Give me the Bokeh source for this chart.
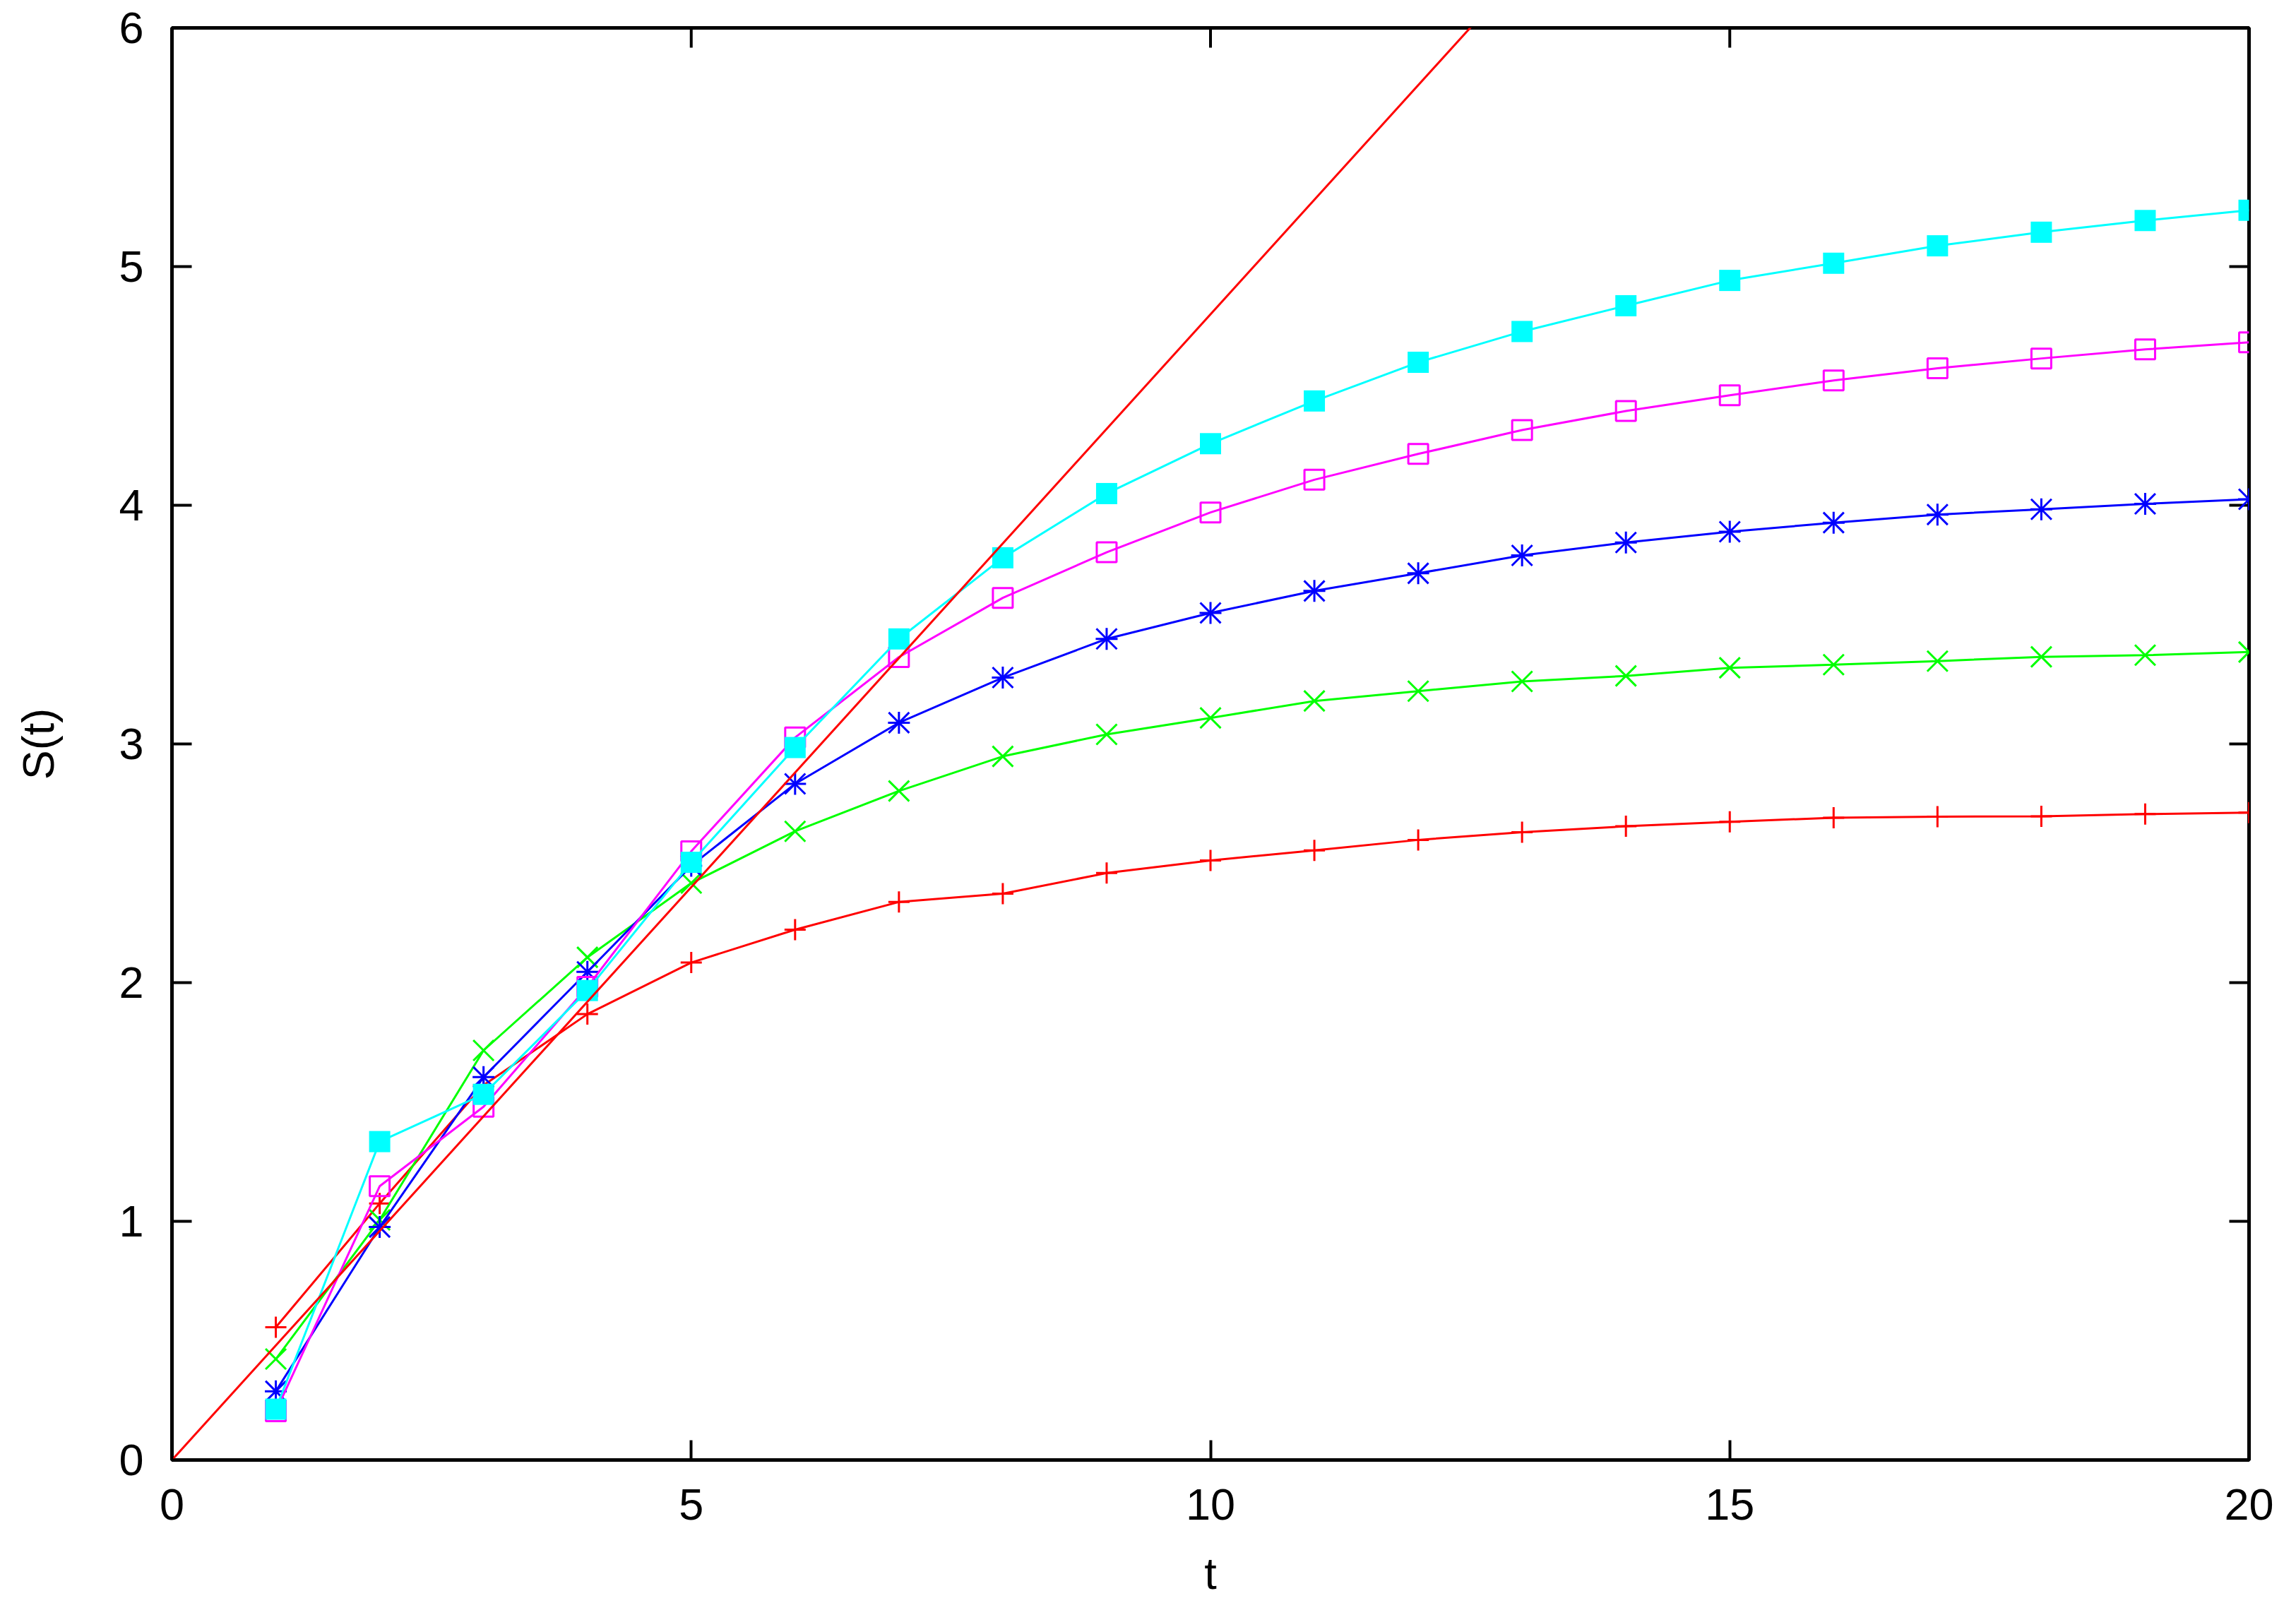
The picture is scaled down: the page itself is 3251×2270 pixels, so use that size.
import math
from bokeh.plotting import figure
from bokeh.models import FixedTicker, Range1d
from bokeh.embed import file_html
from bokeh.resources import INLINE

# ---- data ----
t = list(range(1, 21))
s_red = [0.556, 1.075, 1.57, 1.868, 2.084, 2.222, 2.338, 2.373, 2.459, 2.512,
         2.554, 2.598, 2.630, 2.655, 2.674, 2.691, 2.695, 2.697, 2.706, 2.712]
s_green = [0.423, 1.006, 1.716, 2.106, 2.417, 2.634, 2.803, 2.948, 3.040, 3.109,
           3.180, 3.221, 3.262, 3.285, 3.319, 3.332, 3.347, 3.365, 3.372, 3.385]
s_blue = [0.288, 0.976, 1.604, 2.045, 2.490, 2.833, 3.089, 3.278, 3.440, 3.549,
          3.641, 3.715, 3.790, 3.844, 3.889, 3.927, 3.961, 3.983, 4.006, 4.025]
s_magenta = [0.204, 1.147, 1.480, 1.982, 2.550, 3.027, 3.364, 3.612, 3.803, 3.970,
             4.107, 4.215, 4.315, 4.395, 4.461, 4.523, 4.574, 4.615, 4.653, 4.683]
s_cyan = [0.213, 1.334, 1.532, 1.967, 2.504, 2.985, 3.440, 3.780, 4.049, 4.258,
          4.437, 4.599, 4.728, 4.836, 4.942, 5.014, 5.087, 5.144, 5.193, 5.236]
line_slope = 0.48
line_t = [0, 20]
line_s = [line_slope * v for v in line_t]

x_ticks = [0, 5, 10, 15, 20]
y_ticks = [0, 1, 2, 3, 4, 5, 6]
x_min, x_max = 0, 20
y_min, y_max = 0, 6

FONT = "Liberation Sans"
FS = "63px"

p = figure(frame_width=2941, frame_height=2028,
           x_range=Range1d(x_min, x_max), y_range=Range1d(y_min, y_max),
           output_backend="svg", toolbar_location=None,
           min_border_left=243, min_border_top=39,
           min_border_right=60, min_border_bottom=195,
           x_axis_label="t", y_axis_label="S(t)")
p.xgrid.visible = False
p.ygrid.visible = False
p.outline_line_color = "black"
p.outline_line_width = 5
p.background_fill_color = "white"
p.border_fill_color = "white"

for ax, ticks in ((p.xaxis[0], x_ticks), (p.yaxis[0], y_ticks)):
    ax.ticker = FixedTicker(ticks=ticks)
    ax.axis_line_color = None
    ax.major_tick_in = 28
    ax.major_tick_out = 0
    ax.major_tick_line_width = 4
    ax.major_tick_line_color = "black"
    ax.minor_tick_line_color = None
    ax.major_label_text_font = FONT
    ax.major_label_text_font_size = FS
    ax.major_label_text_color = "black"
    ax.axis_label_text_font = FONT
    ax.axis_label_text_font_size = FS
    ax.axis_label_text_font_style = "normal"
    ax.axis_label_text_color = "black"

p.xaxis[0].major_label_standoff = 41
p.xaxis[0].axis_label_standoff = 38
p.yaxis[0].major_label_standoff = 40
p.yaxis[0].axis_label_standoff = 76

# mirrored inward ticks on top and right edges (half of each dash is clipped)
p.scatter([x_max] * len(y_ticks), y_ticks, marker="dash", size=56,
          line_color="black", line_width=4)
p.scatter(x_ticks, [y_max] * len(x_ticks), marker="dash", size=56,
          angle=math.pi / 2, line_color="black", line_width=4)

LW = 3
XS = 41  # bokeh's x marker spans size/sqrt(2)
# red +
p.line(t, s_red, line_color="#ff0000", line_width=LW)
p.scatter(t, s_red, marker="cross", size=30, line_color="#ff0000", line_width=LW)
# green x
p.line(t, s_green, line_color="#00ff00", line_width=LW)
p.scatter(t, s_green, marker="x", size=XS, line_color="#00ff00", line_width=LW)
# blue asterisk
p.line(t, s_blue, line_color="#0000ff", line_width=LW)
p.scatter(t, s_blue, marker="cross", size=31, line_color="#0000ff", line_width=LW)
p.scatter(t, s_blue, marker="x", size=XS, line_color="#0000ff", line_width=LW)
# magenta open square
p.line(t, s_magenta, line_color="#ff00ff", line_width=LW)
p.scatter(t, s_magenta, marker="square", size=28, fill_color=None,
          line_color="#ff00ff", line_width=LW)
# cyan filled square
p.line(t, s_cyan, line_color="#00ffff", line_width=LW)
p.scatter(t, s_cyan, marker="square", size=30, fill_color="#00ffff",
          line_color=None)
# straight reference line
p.line(line_t, line_s, line_color="#ff0000", line_width=LW)

open("out.html", "w").write(file_html(p, INLINE))
